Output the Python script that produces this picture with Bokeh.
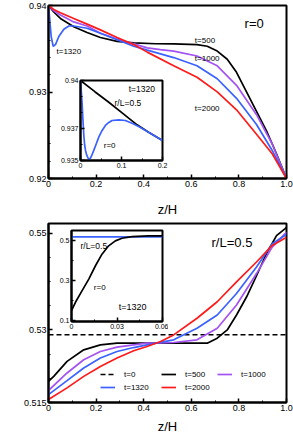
import numpy as np
from bokeh.plotting import figure
from bokeh.layouts import column
from bokeh.models import (Range1d, FixedTicker, Label, Legend, LegendItem)
from bokeh.embed import file_html
from bokeh.resources import INLINE

# ---------------- data ----------------
# top panel: T/Tc vs z/H at r=0
z_t500 = [0, 0.022, 0.05, 0.106, 0.162, 0.218, 0.288, 0.358, 0.45, 0.526, 0.624, 0.667, 0.709, 0.751, 0.79, 0.832, 0.874, 0.916, 0.958, 1.0]
T_t500 = [0.94, 0.93925, 0.9385, 0.93755, 0.93687, 0.9363, 0.93585, 0.93567, 0.93558, 0.93556, 0.93548, 0.93529, 0.93473, 0.93379, 0.93228, 0.93002, 0.92776, 0.9255, 0.92286, 0.92]
z_t1000 = [0, 0.022, 0.05, 0.106, 0.162, 0.218, 0.288, 0.358, 0.415, 0.47, 0.526, 0.624, 0.709, 0.79, 0.874, 0.94, 1.0]
T_t1000 = [0.94, 0.9394, 0.9389, 0.9381, 0.93763, 0.9368, 0.93612, 0.93556, 0.9351, 0.9349, 0.93473, 0.93416, 0.93303, 0.93077, 0.92738, 0.92399, 0.92]
z_t1320 = [0, 0.0056, 0.0112, 0.0196, 0.0294, 0.0434, 0.0644, 0.0854, 0.106, 0.162, 0.218, 0.288, 0.358, 0.415, 0.526, 0.624, 0.709, 0.79, 0.874, 0.94, 1.0]
T_t1320 = [0.94, 0.9383, 0.93642, 0.93529, 0.93548, 0.93642, 0.93725, 0.93763, 0.93763, 0.93737, 0.9368, 0.93605, 0.93529, 0.93484, 0.93398, 0.93303, 0.93153, 0.92927, 0.92625, 0.92324, 0.92]
z_t2000 = [0, 0.022, 0.05, 0.106, 0.162, 0.218, 0.288, 0.358, 0.415, 0.526, 0.624, 0.709, 0.79, 0.874, 0.94, 1.0]
T_t2000 = [0.94, 0.93955, 0.93917, 0.9385, 0.93785, 0.93718, 0.9363, 0.93548, 0.93461, 0.93303, 0.93171, 0.93002, 0.92794, 0.92512, 0.92286, 0.92]

# top inset: t=1320, z/H in [0, 0.2]
zi_r0 = [0, 0.002, 0.004, 0.006, 0.0081, 0.010, 0.0122, 0.015, 0.0186, 0.0215, 0.0243, 0.028, 0.0324, 0.0385, 0.0446, 0.0527, 0.0608, 0.069, 0.077, 0.0932, 0.1094, 0.1256, 0.1418, 0.1661, 0.2]
Ti_r0 = [0.94, 0.9393, 0.93854, 0.9375, 0.93656, 0.936, 0.93563, 0.93535, 0.93514, 0.93508, 0.93515, 0.93535, 0.93563, 0.93605, 0.93646, 0.93688, 0.93719, 0.93738, 0.9375, 0.93754, 0.9375, 0.93733, 0.93713, 0.93677, 0.93625]
zi_rL = [0, 0.035, 0.069, 0.103, 0.138, 0.1661, 0.2]
Ti_rL = [0.94, 0.9393, 0.93864, 0.93795, 0.93723, 0.93677, 0.93625]

# bottom panel: v0 n vs z/H at r/L=0.5
z_b0 = [0, 1.0]
v_b0 = [0.529, 0.529]
z_b500 = [0, 0.022, 0.078, 0.148, 0.218, 0.288, 0.358, 0.45, 0.55, 0.667, 0.709, 0.751, 0.79, 0.832, 0.874, 0.916, 0.958, 0.993, 1.0]
v_b500 = [0.51938, 0.5204, 0.52349, 0.52589, 0.52692, 0.52727, 0.52727, 0.52727, 0.52727, 0.52727, 0.5283, 0.530, 0.53308, 0.5368, 0.5412, 0.5458, 0.5495, 0.5509, 0.5512]
z_b1000 = [0, 0.078, 0.148, 0.218, 0.288, 0.358, 0.414, 0.47, 0.526, 0.624, 0.709, 0.79, 0.874, 0.94, 0.993, 1.0]
v_b1000 = [0.51747, 0.5211, 0.52384, 0.52554, 0.52645, 0.52692, 0.52727, 0.5273, 0.5274, 0.52795, 0.53035, 0.53514, 0.54165, 0.54712, 0.54987, 0.5502]
z_b1320 = [0, 0.078, 0.148, 0.218, 0.288, 0.358, 0.414, 0.526, 0.624, 0.709, 0.79, 0.874, 0.94, 0.993, 1.0]
v_b1320 = [0.51664, 0.51952, 0.52213, 0.52419, 0.52554, 0.52636, 0.52692, 0.52795, 0.53035, 0.53308, 0.53754, 0.54301, 0.54782, 0.54953, 0.5498]
z_b2000 = [0, 0.078, 0.148, 0.218, 0.288, 0.358, 0.414, 0.471, 0.526, 0.624, 0.709, 0.79, 0.874, 0.94, 0.993, 1.0]
v_b2000 = [0.51562, 0.51802, 0.5204, 0.52246, 0.52419, 0.52569, 0.52657, 0.5276, 0.52897, 0.53241, 0.53582, 0.53993, 0.54404, 0.54747, 0.54897, 0.5492]

# bottom inset: t=1320, z/H in [0, 0.06]
zj_r0 = [0, 0.0026, 0.007, 0.0114, 0.0158, 0.0201, 0.0245, 0.0289, 0.0333, 0.0399, 0.0508, 0.06]
vj_r0 = [0.15, 0.1915, 0.25, 0.308, 0.375, 0.433, 0.475, 0.5, 0.513, 0.5215, 0.525, 0.525]
zj_rL = [0, 0.02, 0.04, 0.06]
vj_rL = [0.52, 0.52, 0.52, 0.52]

# tick labels
x_ticks = [0, 0.2, 0.4, 0.6, 0.8, 1.0]
x_tick_labels = ["0", "0.2", "0.4", "0.6", "0.8", "1.0"]
top_y_ticks = [0.92, 0.93, 0.94]
top_y_labels = ["0.92", "0.93", "0.94"]
bot_y_ticks = [0.515, 0.53, 0.55]
bot_y_labels = ["0.515", "0.53", "0.55"]
ins1_x_ticks = [0, 0.1, 0.2]
ins1_x_labels = ["0", "0.1", "0.2"]
ins1_y_ticks = [0.935, 0.937, 0.94]
ins1_y_labels = ["0.935", "0.937", "0.94"]
ins2_x_ticks = [0, 0.03, 0.06]
ins2_x_labels = ["0", "0.03", "0.06"]
ins2_y_ticks = [0.1, 0.3, 0.5]
ins2_y_labels = ["0.1", "0.3", "0.5"]

BLACK = "#000000"
PURPLE = "#a452f2"
BLUE = "#3a62ff"
RED = "#ff1a1a"
FONT = "Liberation Sans"
LW = 1.7


def style_axes(p, xt, xl, yt, yl, xminor, yminor, label_size):
    p.xgrid.visible = False
    p.ygrid.visible = False
    p.outline_line_color = "black"
    p.outline_line_width = 2
    p.xaxis.ticker = FixedTicker(ticks=xt, minor_ticks=xminor)
    p.yaxis.ticker = FixedTicker(ticks=yt, minor_ticks=yminor)
    p.xaxis.major_label_overrides = dict(zip(xt, xl))
    p.yaxis.major_label_overrides = dict(zip(yt, yl))
    for ax in (p.xaxis, p.yaxis):
        ax.axis_line_width = 2
        ax.axis_line_color = "black"
        ax.major_tick_in = 4
        ax.major_tick_out = 0
        ax.minor_tick_in = 2
        ax.minor_tick_out = 0
        ax.major_tick_line_width = 1.5
        ax.major_tick_line_color = "black"
        ax.minor_tick_line_color = "black"
        ax.major_label_text_font = FONT
        ax.major_label_text_font_size = label_size
        ax.major_label_text_color = "black"
        ax.major_label_standoff = 2


def xlabel(p, text, standoff):
    ax = p.below[0]
    ax.axis_label = text
    ax.axis_label_text_font = FONT
    ax.axis_label_text_font_size = "13px"
    ax.axis_label_text_font_style = "normal"
    ax.axis_label_text_color = "black"
    ax.axis_label_standoff = standoff


def lab(p, x, y, text, size, units="data", angle=0.0, align="left"):
    p.add_layout(Label(x=x, y=y, text=text, x_units=units, y_units=units, angle=angle,
                       text_font=FONT, text_font_size=size, text_color="black",
                       text_align=align, text_baseline="middle"))


def legend_col(p, items, loc):
    lg = Legend(items=[LegendItem(label=t, renderers=[r]) for t, r in items],
                orientation="vertical", location=loc,
                glyph_width=15, glyph_height=10, label_height=10,
                label_standoff=9, spacing=3, padding=0, margin=0, border_line_color=None,
                background_fill_alpha=0, label_text_font=FONT, label_text_font_size="8px",
                label_text_color="black")
    p.add_layout(lg)


# ---------------- top panel ----------------
p1 = figure(width=293, height=219, x_range=Range1d(0, 1), y_range=Range1d(0.92, 0.94),
            output_backend="svg", toolbar_location=None, frame_align=False,
            min_border_left=48, min_border_right=7, min_border_top=5, min_border_bottom=36)
style_axes(p1, x_ticks, x_tick_labels, top_y_ticks, top_y_labels,
           list(np.arange(0.1, 1.0, 0.2)), list(np.arange(0.922, 0.9399, 0.002)), "9px")
xlabel(p1, "z/H", 12)
p1.line(z_t500, T_t500, color=BLACK, line_width=LW)
p1.line(z_t1000, T_t1000, color=PURPLE, line_width=LW)
p1.line(z_t1320, T_t1320, color=BLUE, line_width=LW)
p1.line(z_t2000, T_t2000, color=RED, line_width=LW)
lab(p1, 0.824, 0.93797, "r=0", "13px")
lab(p1, 0.615, 0.93597, "t=500", "8px")
lab(p1, 0.615, 0.9339, "t=1000", "8px")
lab(p1, 0.615, 0.92814, "t=2000", "8px")
lab(p1, 0.0336, 0.93472, "t=1320", "8px")
# y-axis label T/T_c (screen units, relative to the frame's bottom-left)
lab(p1, -33, 94, "T/T", "12px", units="screen", angle=np.pi / 2, align="center")
lab(p1, -30, 103.5, "c", "8px", units="screen", angle=np.pi / 2, align="left")

# ---------------- bottom panel ----------------
p2 = figure(width=293, height=217, x_range=Range1d(0, 1), y_range=Range1d(0.515, 0.552),
            output_backend="svg", toolbar_location=None, frame_align=False,
            min_border_left=48, min_border_right=7, min_border_top=4, min_border_bottom=33)
style_axes(p2, x_ticks, x_tick_labels, bot_y_ticks, bot_y_labels,
           list(np.arange(0.1, 1.0, 0.2)), [0.52, 0.525, 0.535, 0.54, 0.545], "9px")
xlabel(p2, "z/H", 5)
r0 = p2.line(z_b0, v_b0, color=BLACK, line_width=LW, line_dash="5 3")
r500 = p2.line(z_b500, v_b500, color=BLACK, line_width=LW)
r1000 = p2.line(z_b1000, v_b1000, color=PURPLE, line_width=LW)
r1320 = p2.line(z_b1320, v_b1320, color=BLUE, line_width=LW)
r2000 = p2.line(z_b2000, v_b2000, color=RED, line_width=LW)
lab(p2, 0.685, 0.548, "r/L=0.5", "13px")
legend_col(p2, [("t=0", r0), ("t=1320", r1320)], (52, 10))
legend_col(p2, [("t=500", r500), ("t=2000", r2000)], (113, 10))
legend_col(p2, [("t=1000", r1000)], (169, 23))
# y-axis label v_0 n
lab(p2, -33, 88.3, "v", "12px", units="screen", angle=np.pi / 2, align="left")
lab(p2, -30, 94.3, "0", "8px", units="screen", angle=np.pi / 2, align="left")
lab(p2, -33, 98.8, "n", "12px", units="screen", angle=np.pi / 2, align="left")

# ---------------- top inset ----------------
ins1 = figure(width=118, height=99, x_range=Range1d(0, 0.2), y_range=Range1d(0.935, 0.94),
              output_backend="svg", toolbar_location=None, frame_align=False,
              min_border_left=30, min_border_right=6, min_border_top=5, min_border_bottom=14,
              border_fill_color=None, background_fill_color="white")
style_axes(ins1, ins1_x_ticks, ins1_x_labels, ins1_y_ticks, ins1_y_labels,
           [0.05, 0.15], [0.936, 0.938, 0.939], "7px")
ins1.line(zi_rL, Ti_rL, color=BLACK, line_width=LW)
ins1.line(zi_r0, Ti_r0, color=BLUE, line_width=LW)
lab(ins1, 0.1174, 0.93944, "t=1320", "8.5px")
lab(ins1, 0.083, 0.93858, "r/L=0.5", "8.5px")
lab(ins1, 0.0567, 0.93594, "r=0", "8px")
ins1.styles = {"position": "absolute", "left": "50px", "top": "75px"}

# ---------------- bottom inset ----------------
ins2 = figure(width=119, height=110, x_range=Range1d(0, 0.06), y_range=Range1d(0.095, 0.552),
              output_backend="svg", toolbar_location=None, frame_align=False,
              min_border_left=22, min_border_right=6, min_border_top=5, min_border_bottom=14,
              border_fill_color=None, background_fill_color="white")
style_axes(ins2, ins2_x_ticks, ins2_x_labels, ins2_y_ticks, ins2_y_labels,
           [0.015, 0.045], [0.2, 0.4], "7px")
ins2.line(zj_rL, vj_rL, color=BLUE, line_width=LW)
ins2.line(zj_r0, vj_r0, color=BLACK, line_width=LW)
lab(ins2, 0.0059, 0.475, "r/L=0.5", "8.5px")
lab(ins2, 0.0147, 0.2665, "r=0", "8px")
lab(ins2, 0.0311, 0.1665, "t=1320", "9px")
ins2.styles = {"position": "absolute", "left": "49px", "top": "225px"}

p = column(p1, p2, ins1, ins2, styles={"position": "relative"})
open("out.html", "w").write(file_html(p, INLINE))
